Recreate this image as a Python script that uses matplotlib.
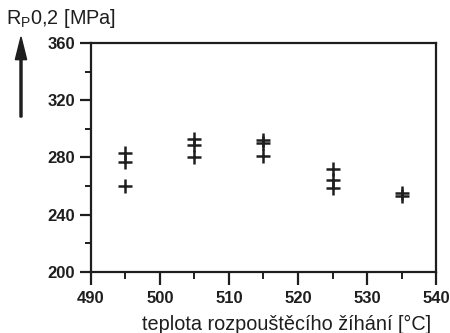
import numpy as np
import matplotlib.pyplot as plt
from matplotlib.patches import FancyArrow
from matplotlib.ticker import MultipleLocator

plt.rcParams['font.family'] = ['Liberation Sans', 'DejaVu Sans']

# --- Data ---
temp = [495, 495, 495, 505, 505, 505, 515, 515, 515, 525, 525, 525, 535, 535]
rp02 = [283, 277, 260, 293, 289, 280, 292, 290, 281, 272, 264, 259, 255, 253]

xticks = [490, 500, 510, 520, 530, 540]
yticks = [200, 240, 280, 320, 360]

ink = '#1e1e1e'

fig = plt.figure(figsize=(4.5, 3.33), dpi=100)
ax = fig.add_axes([0.2022, 0.1832, 0.7667, 0.6877])

ax.plot(temp, rp02, linestyle='none', marker='+', markersize=9.5,
        markeredgewidth=1.8, color=ink)

ax.set_xlim(490, 540)
ax.set_ylim(200, 360)
ax.set_xticks(xticks)
ax.set_yticks(yticks)
ax.xaxis.set_minor_locator(MultipleLocator(5))
ax.yaxis.set_minor_locator(MultipleLocator(20))

for s in ax.spines.values():
    s.set_linewidth(1.6)
    s.set_color(ink)

ax.tick_params(which='both', direction='out', color=ink, labelsize=12)
ax.tick_params(axis='x', which='major', length=9, width=1.6, pad=5)
ax.tick_params(axis='x', which='minor', length=5, width=1.4)
ax.tick_params(axis='y', which='major', length=8, width=1.6, pad=3.5)
ax.tick_params(axis='y', which='minor', length=4, width=1.4)
for lab in ax.get_xticklabels() + ax.get_yticklabels():
    lab.set_fontweight('bold')
    lab.set_color(ink)

# axis titles
fig.text(431 / 450, 1 - 324 / 333, 'teplota rozpouštěcího žíhání [°C]',
         ha='right', va='center', fontsize=14.3, color=ink)
fig.text(6 / 450, 1 - 19 / 333, r'R$_\mathregular{P}$0,2 [MPa]',
         ha='left', va='center', fontsize=14.3, color=ink)

# upward arrow next to the y axis title
fig.patches.append(FancyArrow(
    21 / 450, 1 - 117 / 333, 0, (117 - 37) / 333,
    width=0.0045, head_width=0.025, head_length=0.068,
    length_includes_head=True, color=ink, transform=fig.transFigure))

fig.savefig('out.png', dpi=100)
